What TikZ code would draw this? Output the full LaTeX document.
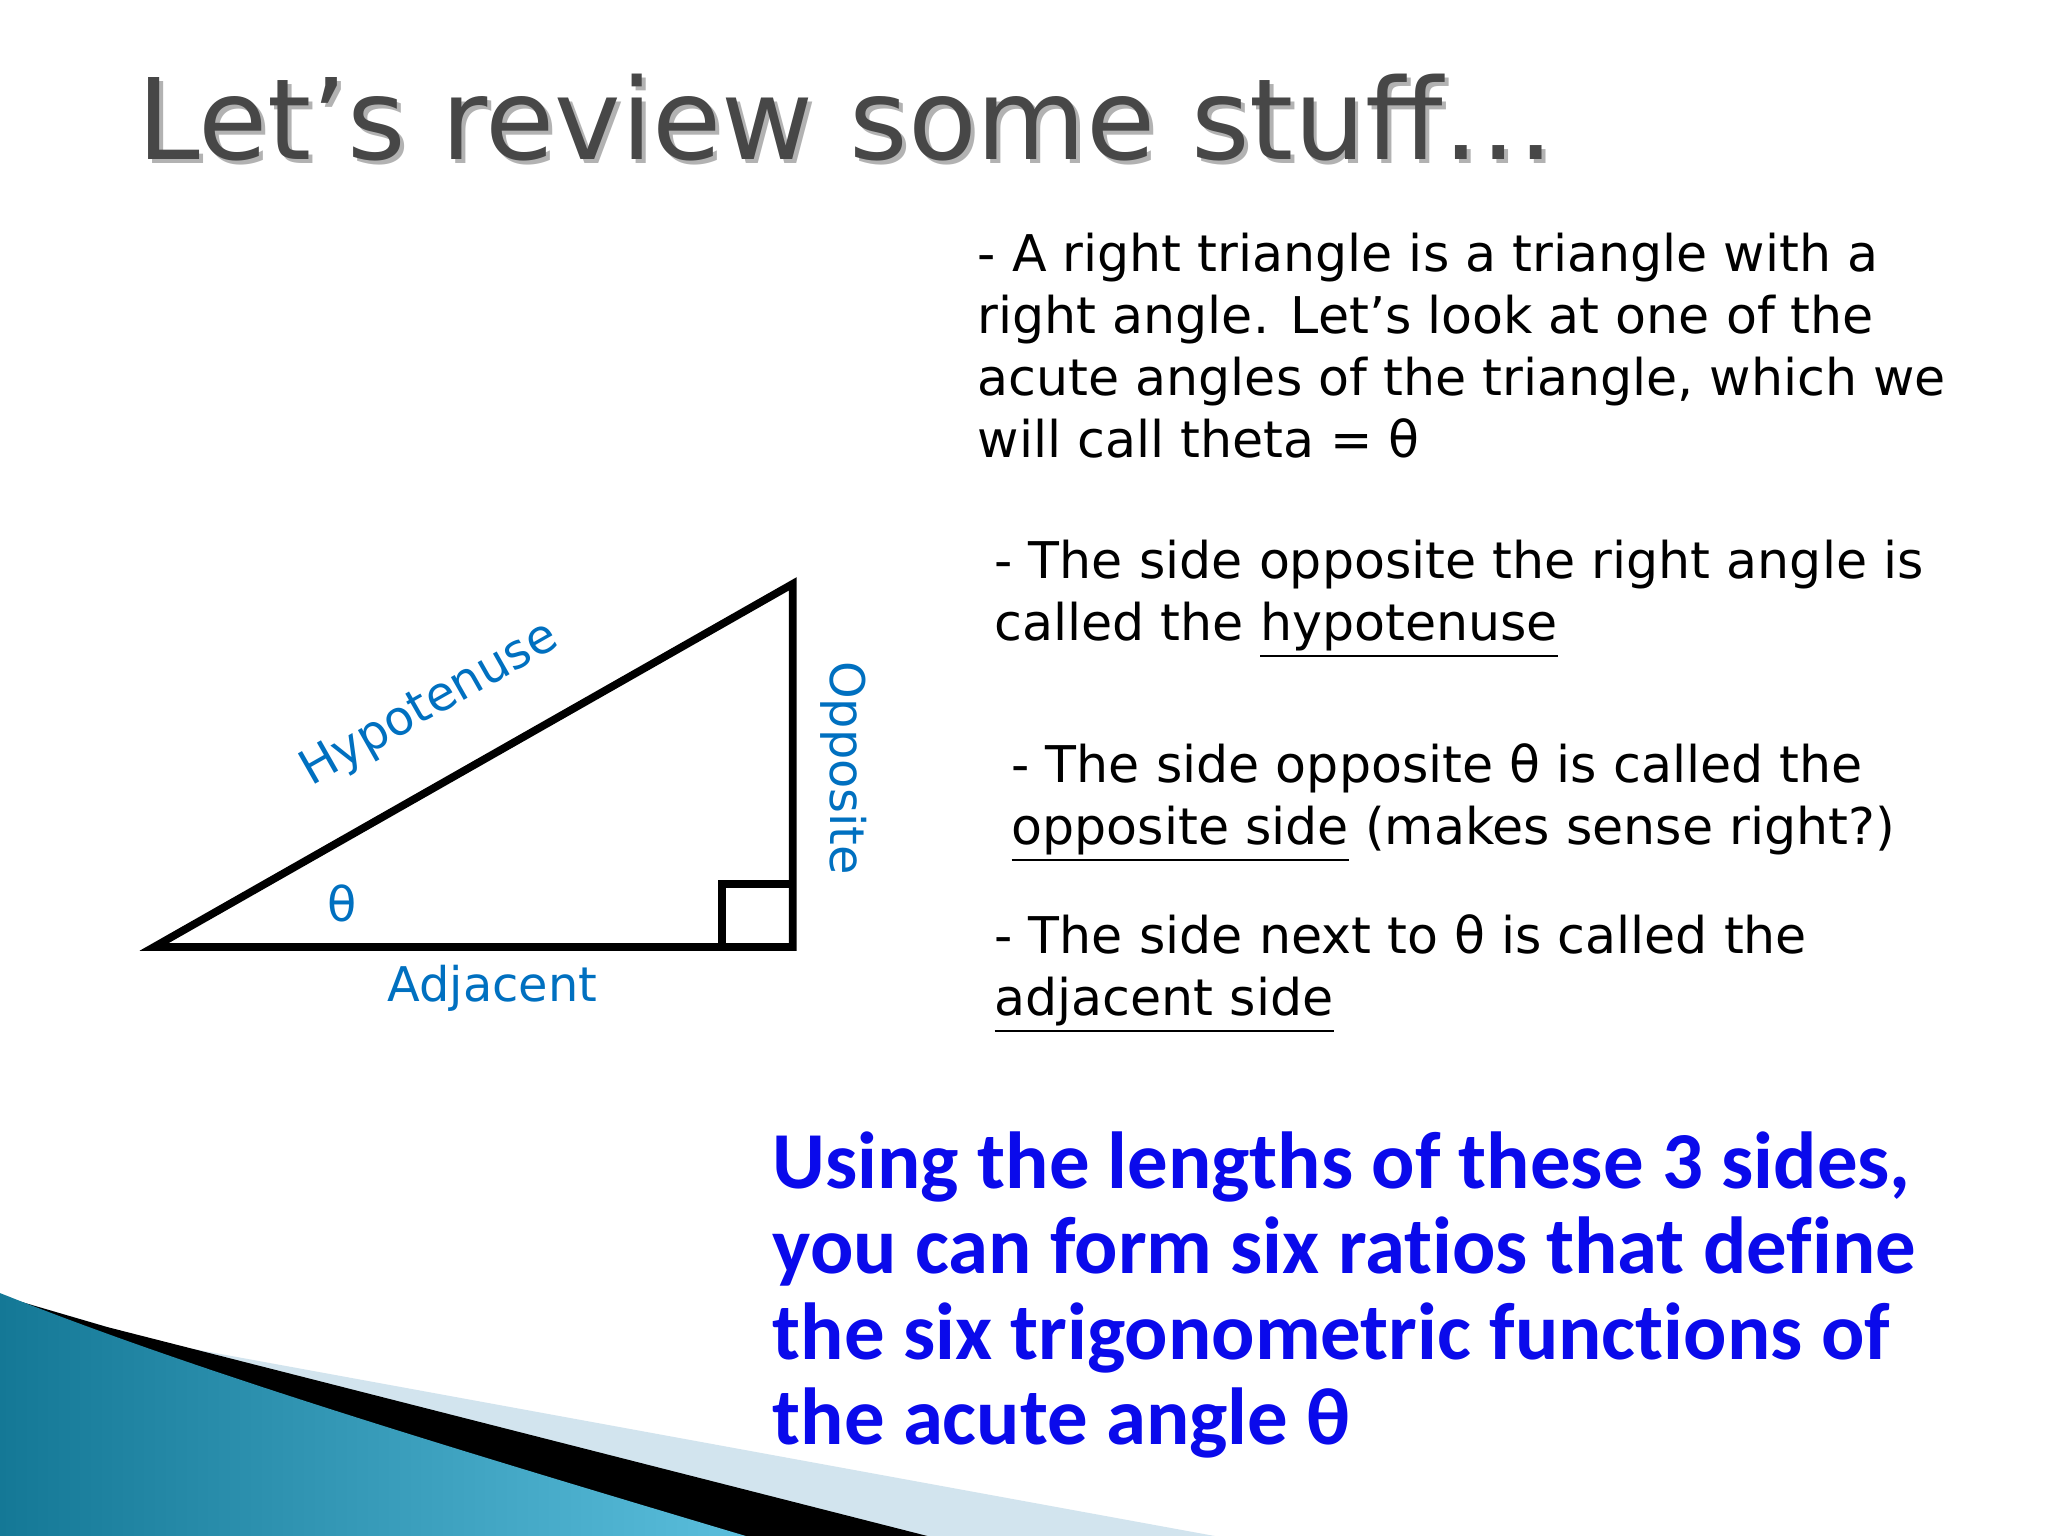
\documentclass[tikz,border=0pt]{standalone}
\usepackage{fontspec}
\setmainfont{DejaVu Sans}
\newfontfamily\carl[Ligatures=NoCommon]{Carlito}
\newcommand{\ul}[1]{\underline{#1}}
\definecolor{lblue}{RGB}{0,112,192}
\definecolor{bblue}{RGB}{10,10,235}
\definecolor{teal1}{RGB}{20,120,150}
\definecolor{teal2}{RGB}{90,190,220}
\definecolor{pale}{RGB}{210,228,238}
\tikzset{body/.style={anchor=north west,align=left,font=\fontsize{14.4}{17.6}\selectfont,inner sep=0pt},
 lab/.style={text=lblue,font=\fontsize{13.6}{16}\selectfont}}
\begin{document}
\begin{tikzpicture}[x=0.013061cm,y=-0.013061cm]
\useasboundingbox (0,0) rectangle (1568,1176);
\fill[white] (0,0) rectangle (1568,1176);
% title
\node[anchor=west,text=black!30,font=\fontsize{32}{38}\selectfont] at (99,93) {Let’s review some stuff…};
\node[anchor=west,text=black!72,font=\fontsize{32}{38}\selectfont] (title) at (96,90) {Let’s review some stuff…};
% triangle
\coordinate (A) at (118,725); \coordinate (B) at (607,725); \coordinate (C) at (607,447);
\draw[line width=2.2pt,line join=miter] (A) -- (B) -- (C) -- cycle;
\draw[line width=2.2pt] (553,725) -- (553,677) -- (607,677);
\node[lab,rotate=29.6] (hyp) at (329,540) {Hypotenuse};
\node[lab,rotate=-90] (opp) at (646,588) {Opposite};
\node[lab] (adj) at (377,757) {Adjacent};
\node[lab] (th) at (262,692) {θ};
% body text
\node[body] (t1) at (748,178) {- A right triangle is a triangle with a\\right angle. Let’s look at one of the\\acute angles of the triangle, which we\\will call theta = θ};
\node[body] (t2) at (761,413) {- The side opposite the right angle is\\called the \ul{hypotenuse}};
\node[body] (t3) at (774,569) {- The side opposite θ is called the\\\ul{opposite side} (makes sense right?)};
\node[body] (t4) at (761,700) {- The side next to θ is called the\\\ul{adjacent side}};
\node[anchor=north west,align=left,inner sep=0pt,text=bblue,font=\carl\bfseries\fontsize{23}{24.3}\selectfont] (blue) at (591,866)
 {Using the lengths of these 3 sides,\\you can form six ratios that define\\the six trigonometric functions of\\the acute angle θ};
% decoration
\fill[pale] (0,992) -- (127,1029) -- (930,1176) -- (0,1176) -- cycle;
\fill[black] (0,992) -- (82,1016) -- (710,1176) -- (0,1176) -- cycle;
\shade[left color=teal1,right color=teal2] (0,990) .. controls (150,1050) and (350,1110) .. (571,1176) -- (0,1176) -- cycle;
\end{tikzpicture}
\end{document}
